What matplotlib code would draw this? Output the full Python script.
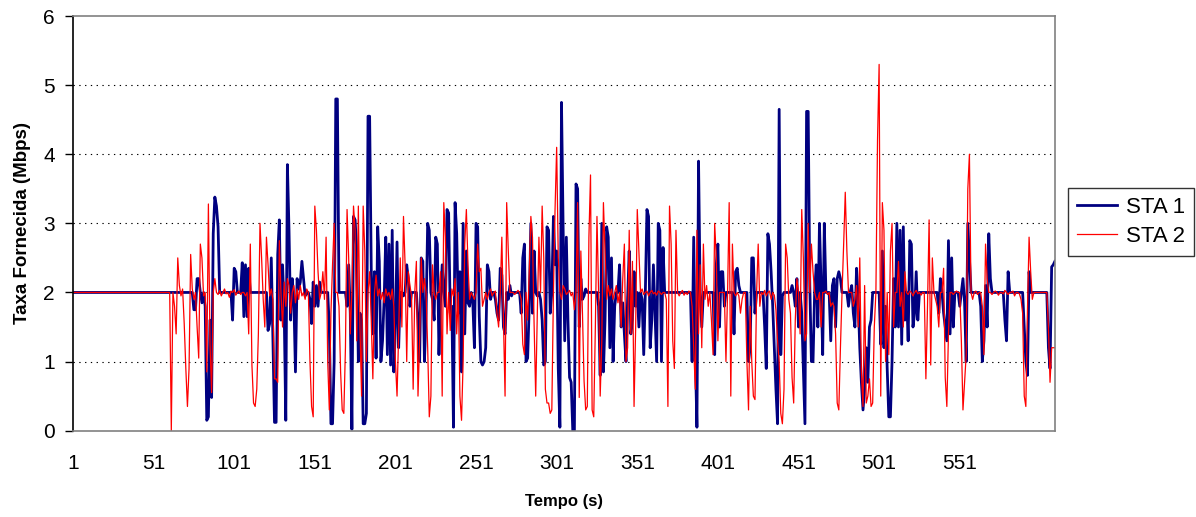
import matplotlib
matplotlib.use("Agg")
import matplotlib.pyplot as plt
import numpy as np

plt.rcParams['font.family'] = ['Liberation Sans', 'DejaVu Sans']

# taxa fornecida (Mbps) por segundo (t = 1..610)
sta1 = [
    2.0, 2.0, 2.0, 2.0, 2.0, 2.0, 2.0, 2.0, 2.0, 2.0,  # 1
    2.0, 2.0, 2.0, 2.0, 2.0, 2.0, 2.0, 2.0, 2.0, 2.0,
    2.0, 2.0, 2.0, 2.0, 2.0, 2.0, 2.0, 2.0, 2.0, 2.0,
    2.0, 2.0, 2.0, 2.0, 2.0, 2.0, 2.0, 2.0, 2.0, 2.0,
    2.0, 2.0, 2.0, 2.0, 2.0, 2.0, 2.0, 2.0, 2.0, 2.0,
    2.0, 2.0, 2.0, 2.0, 2.0, 2.0, 2.0, 2.0, 2.0, 2.0,  # 51
    2.0, 2.0, 2.0, 2.0, 2.0, 2.0, 2.0, 2.0, 2.0, 2.0,
    2.0, 2.0, 2.0, 2.0, 2.0, 1.75, 1.75, 2.2, 2.2, 2.0,
    1.85, 2.0, 1.8, 0.15, 0.2, 1.6, 0.48, 2.85, 3.38, 3.25,
    2.95, 2.0, 2.0, 2.0, 2.0, 2.0, 2.0, 2.0, 2.0, 1.6,
    2.35, 2.3, 2.0, 2.0, 2.0, 2.43, 1.65, 2.4, 1.65, 2.35,  # 101
    2.0, 2.0, 2.0, 2.0, 2.0, 2.0, 2.0, 2.0, 2.0, 2.0,
    2.0, 1.45, 1.55, 2.5, 1.35, 0.12, 0.12, 2.55, 3.05, 1.6,
    2.4, 1.75, 0.15, 3.85, 2.9, 1.6, 2.2, 1.9, 0.85, 2.2,
    2.05, 2.15, 2.45, 2.2, 1.95, 2.0, 2.0, 1.9, 1.55, 2.15,
    1.8, 2.1, 1.8, 2.15, 2.0, 2.0, 2.0, 2.0, 2.0, 1.5,  # 151
    0.1, 0.1, 1.0, 4.8, 4.8, 2.0, 2.0, 2.0, 2.0, 2.0,
    1.8, 2.4, 1.7, 0.02, 3.1, 3.05, 2.6, 1.0, 1.7, 1.6,
    0.1, 0.1, 0.25, 4.55, 4.55, 2.35, 1.4, 2.3, 1.05, 2.95,
    2.45, 1.0, 1.3, 1.9, 2.8, 1.1, 2.7, 0.95, 2.9, 0.85,
    1.5, 2.73, 1.2, 2.0, 2.0, 1.95, 2.0, 2.4, 2.2, 1.8,  # 201
    2.0, 2.0, 2.0, 2.0, 1.6, 1.0, 2.5, 2.45, 1.0, 1.7,
    3.0, 2.9, 2.0, 1.9, 1.6, 2.8, 2.7, 1.1, 1.9, 2.4,
    2.0, 1.8, 3.2, 3.15, 1.7, 1.8, 0.05, 3.3, 2.85, 1.7,
    2.3, 0.85, 3.0, 1.4, 2.6, 1.85, 1.8, 2.0, 1.85, 1.2,
    3.0, 2.95, 1.65, 1.0, 0.95, 1.0, 1.2, 2.4, 2.3, 1.9,  # 251
    2.0, 2.0, 1.9, 1.7, 1.6, 2.35, 2.25, 1.5, 1.4, 2.0,
    1.9, 2.1, 1.95, 2.0, 2.0, 2.0, 2.0, 2.0, 1.7, 2.5,
    2.7, 1.0, 1.05, 1.8, 3.0, 1.7, 2.6, 2.0, 1.95, 2.0,
    1.9, 1.6, 0.95, 1.0, 2.95, 2.9, 1.7, 2.0, 3.1, 2.4,
    2.6, 0.9, 0.05, 4.75, 2.95, 1.3, 2.8, 1.6, 0.77, 0.7,  # 301
    0.0, 0.0, 3.57, 3.5, 1.5, 2.2, 1.9, 1.95, 2.05, 2.0,
    2.0, 2.0, 2.0, 2.0, 2.0, 2.0, 1.8, 0.8, 3.0, 0.85,
    1.6, 2.95, 2.8, 1.2, 2.5, 1.0, 1.8, 2.0, 2.0, 2.4,
    1.5, 1.85, 1.4, 1.0, 1.9, 2.6, 1.4, 1.6, 2.3, 1.8,
    2.0, 1.5, 2.0, 1.9, 1.1, 2.0, 3.2, 3.1, 1.2, 1.6,  # 351
    2.4, 1.7, 1.0, 3.0, 2.9, 1.0, 2.65, 2.0, 2.0, 2.0,
    2.0, 2.0, 2.0, 2.0, 2.0, 2.0, 2.0, 2.0, 2.0, 2.0,
    2.0, 2.0, 2.0, 2.0, 1.0, 2.8, 1.1, 0.05, 3.9, 2.0,
    1.5, 2.0, 2.0, 2.0, 2.0, 2.0, 2.0, 2.0, 1.1, 2.4,
    2.7, 1.5, 2.3, 2.3, 1.8, 2.0, 2.0, 2.0, 2.0, 2.0,  # 401
    1.4, 2.3, 2.35, 2.1, 2.0, 2.0, 2.0, 2.0, 2.0, 1.0,
    1.2, 2.5, 2.5, 1.7, 2.0, 2.0, 2.0, 2.0, 2.0, 1.5,
    0.9, 2.85, 2.7, 2.3, 1.8, 1.2, 0.6, 0.1, 4.65, 1.1,
    1.95, 2.0, 2.0, 2.0, 2.0, 2.0, 2.1, 2.0, 1.8, 2.2,
    1.5, 2.0, 1.7, 0.9, 0.1, 4.62, 4.62, 2.1, 1.0, 1.0,  # 451
    2.0, 2.4, 1.5, 3.0, 2.1, 1.1, 3.0, 2.0, 2.0, 2.0,
    1.3, 2.1, 2.2, 1.5, 2.2, 2.3, 2.2, 2.0, 2.0, 2.0,
    2.0, 1.8, 2.0, 2.1, 1.7, 1.5, 2.35, 1.9, 1.2, 0.7,
    0.3, 0.6, 1.2, 0.7, 1.5, 1.6, 2.0, 2.0, 2.0, 2.0,
    2.0, 1.25, 2.6, 1.2, 1.8, 0.9, 0.2, 0.2, 1.0, 2.2,  # 501
    1.5, 3.0, 1.5, 2.9, 1.25, 2.95, 1.6, 2.0, 1.3, 2.75,
    2.7, 1.5, 1.7, 2.3, 1.6, 2.0, 2.0, 2.0, 2.0, 2.0,
    2.0, 2.0, 2.0, 2.0, 2.0, 2.0, 2.0, 1.7, 2.2, 2.0,
    1.7, 1.5, 1.3, 2.75, 1.4, 2.5, 1.5, 2.0, 2.0, 2.0,
    1.8, 2.0, 2.2, 1.85, 1.0, 3.0, 2.5, 2.0, 2.0, 2.0,  # 551
    2.0, 2.0, 2.0, 1.8, 1.0, 1.3, 2.1, 1.5, 2.85, 2.2,
    2.0, 2.0, 2.0, 2.0, 2.0, 2.0, 2.0, 2.0, 1.6, 1.3,
    2.3, 2.0, 2.0, 2.0, 2.0, 2.0, 2.0, 2.0, 2.0, 2.0,
    1.5, 1.0, 0.8, 2.3, 2.0, 2.0, 2.0, 2.0, 2.0, 2.0,
    2.0, 2.0, 2.0, 2.0, 2.0, 1.2, 0.9, 2.37, 2.4, 2.45,  # 601
]

sta2 = [
    2.0, 2.0, 2.0, 2.0, 2.0, 2.0, 2.0, 2.0, 2.0, 2.0,  # 1
    2.0, 2.0, 2.0, 2.0, 2.0, 2.0, 2.0, 2.0, 2.0, 2.0,
    2.0, 2.0, 2.0, 2.0, 2.0, 2.0, 2.0, 2.0, 2.0, 2.0,
    2.0, 2.0, 2.0, 2.0, 2.0, 2.0, 2.0, 2.0, 2.0, 2.0,
    2.0, 2.0, 2.0, 2.0, 2.0, 2.0, 2.0, 2.0, 2.0, 2.0,
    2.0, 2.0, 2.0, 2.0, 2.0, 2.0, 2.0, 2.0, 2.0, 2.0,  # 51
    2.0, 0.0, 2.0, 1.8, 1.4, 2.5, 2.1, 1.95, 2.05, 1.55,
    0.9, 0.35, 0.9, 2.55, 2.05, 1.9, 2.0, 1.5, 1.05, 2.7,
    2.5, 1.95, 2.0, 0.85, 3.28, 1.25, 0.55, 2.0, 2.2, 2.0,
    1.97, 2.03, 1.95, 2.0, 2.05, 1.98, 2.0, 1.93, 2.02, 2.0,
    2.04, 1.96, 2.0, 2.02, 1.97, 2.0, 2.0, 1.95, 2.0, 1.4,  # 101
    2.7, 0.95, 0.4, 0.35, 0.6, 1.4, 3.0, 2.5, 1.9, 1.5,
    2.8, 2.4, 1.95, 2.05, 1.9, 0.75, 0.75, 0.7, 2.75, 2.0,
    1.5, 2.15, 1.8, 2.2, 2.1, 1.7, 2.0, 2.1, 1.85, 2.05,
    1.9, 2.1, 1.95, 2.0, 1.9, 2.05, 2.0, 1.0, 0.35, 0.2,
    3.25, 2.9, 2.3, 1.9, 2.0, 2.3, 1.9, 2.8, 1.0, 0.3,  # 151
    1.7, 2.4, 3.0, 2.0, 2.0, 1.8, 0.85, 0.3, 0.25, 1.2,
    3.2, 2.5, 1.4, 2.0, 3.25, 2.9, 1.3, 3.25, 1.5, 0.5,
    3.25, 2.6, 1.0, 2.0, 2.3, 1.6, 0.75, 2.0, 2.25, 1.95,
    2.05, 1.9, 2.0, 1.85, 2.05, 1.95, 2.0, 1.9, 2.05, 1.8,
    1.0, 0.5, 1.4, 2.5, 1.5, 3.1, 2.4, 1.0, 2.3, 2.1,  # 201
    1.95, 0.6, 2.0, 2.45, 0.5, 1.3, 2.5, 2.0, 2.2, 2.0,
    1.2, 0.2, 0.5, 2.4, 2.0, 1.9, 2.0, 2.0, 2.3, 0.5,
    3.3, 2.8, 1.4, 2.0, 1.45, 2.05, 1.95, 2.2, 1.4, 2.0,
    0.5, 0.15, 1.0, 2.7, 3.2, 2.4, 1.9, 2.0, 1.95, 1.9,
    2.0, 2.7, 2.3, 2.35, 1.8, 1.9, 2.0, 1.9, 2.0, 2.05,  # 251
    1.95, 2.0, 2.02, 1.7, 1.5, 2.0, 2.8, 1.6, 0.5, 3.3,
    2.6, 2.0, 2.0, 2.0, 1.97, 2.0, 2.03, 2.0, 1.9, 1.25,
    1.1, 2.0, 1.6, 2.3, 3.1, 2.8, 1.55, 0.5, 1.7, 2.8,
    2.0, 3.25, 2.5, 0.6, 0.4, 0.4, 0.25, 0.3, 2.0, 3.2,
    4.1, 2.5, 2.0, 1.9, 2.1, 2.05, 1.97, 2.0, 2.03, 1.95,  # 301
    2.0, 1.75, 2.0, 3.3, 0.48, 2.6, 1.7, 0.72, 0.3, 0.35,
    2.8, 3.7, 0.3, 0.2, 1.5, 3.1, 2.0, 0.5, 1.3, 3.3,
    2.6, 1.9, 2.1, 1.95, 2.05, 1.9, 2.0, 2.1, 1.85, 2.0,
    1.5, 2.2, 2.7, 1.0, 1.2, 2.9, 1.4, 2.45, 0.35, 1.5,
    3.2, 2.6, 2.0, 2.05, 1.97, 2.0, 2.02, 1.95, 2.0, 2.03,  # 351
    1.98, 2.0, 1.96, 2.02, 2.0, 1.97, 2.0, 2.0, 1.9, 0.35,
    3.25, 2.7, 1.3, 0.9, 2.9, 2.0, 1.95, 2.0, 2.03, 1.96,
    2.0, 1.97, 2.02, 2.0, 1.8, 1.2, 0.6, 2.9, 1.4, 2.4,
    1.2, 2.7, 1.9, 2.1, 1.8, 2.0, 1.6, 1.1, 3.0, 2.5,
    1.3, 2.0, 2.0, 2.0, 2.0, 1.0, 2.0, 3.3, 0.5, 2.7,  # 401
    2.0, 1.95, 2.0, 1.95, 1.7, 1.9, 2.0, 2.0, 1.0, 0.3,
    1.8, 1.0, 0.5, 0.45, 2.0, 2.7, 1.8, 2.0, 1.97, 2.03,
    1.95, 2.0, 2.02, 1.9, 2.0, 1.96, 1.75, 1.3, 1.0, 0.25,
    0.1, 0.6, 2.7, 2.5, 1.9, 1.7, 0.77, 0.4, 1.6, 2.2,
    2.0, 1.4, 3.2, 2.5, 1.3, 1.4, 3.0, 2.0, 2.7, 2.3,  # 451
    2.0, 1.9, 1.9, 2.0, 1.5, 2.0, 2.0, 2.02, 1.97, 2.0,
    1.8, 1.85, 1.8, 1.4, 0.4, 0.3, 1.2, 2.0, 2.7, 3.45,
    2.6, 2.0, 2.0, 2.0, 1.8, 1.9, 2.1, 1.5, 2.5, 0.85,
    0.35, 2.1, 0.4, 0.5, 0.75, 0.35, 0.4, 1.5, 2.0, 4.2,
    5.3, 0.5, 3.3, 2.9, 1.0, 2.0, 1.1, 2.6, 3.0, 1.5,  # 501
    2.0, 2.0, 2.45, 1.8, 2.0, 1.5, 2.3, 2.0, 1.97, 2.02,
    2.0, 1.95, 2.0, 2.03, 1.98, 2.0, 1.96, 2.0, 2.0, 0.75,
    1.8, 3.05, 0.95, 2.5, 2.0, 1.9, 1.8, 1.5, 2.0, 2.0,
    2.35, 0.77, 0.35, 1.4, 2.0, 2.0, 1.97, 2.0, 2.02, 2.0,
    2.0, 1.3, 0.3, 0.7, 1.1, 3.5, 4.0, 2.0, 1.9, 2.0,  # 551
    2.02, 1.97, 2.0, 2.0, 1.8, 1.1, 2.7, 2.2, 2.0, 2.0,
    1.97, 2.0, 2.02, 2.0, 1.96, 2.0, 2.0, 1.98, 2.03, 2.0,
    1.97, 2.0, 2.0, 2.02, 1.95, 2.0, 2.0, 1.98, 1.9, 1.7,
    0.5, 0.35, 1.74, 2.8, 2.3, 1.9, 2.0, 2.0, 2.0, 2.0,
    2.0, 2.0, 2.0, 2.0, 2.0, 1.5, 0.7, 1.2, 1.2, 1.2,  # 601
]

tempo = np.arange(1, len(sta1) + 1)
xticks = [1, 51, 101, 151, 201, 251, 301, 351, 401, 451, 501, 551]
yticks = [0, 1, 2, 3, 4, 5, 6]

fig = plt.figure(figsize=(11.96, 5.17), dpi=100)
ax = fig.add_axes([0.061, 0.167, 0.821, 0.802])

ax.plot(tempo, sta1, color='#000080', lw=2.0, label='STA 1')
ax.plot(tempo, sta2, color='#ff0000', lw=0.9, label='STA 2')

ax.set_xlim(1, len(sta1))
ax.set_ylim(0, 6)
ax.set_xticks(xticks)
ax.set_yticks(yticks)
ax.tick_params(axis='x', length=0, pad=17, labelsize=15)
ax.tick_params(axis='y', length=6, width=1, pad=7, labelsize=15, direction='out')

for y in yticks[1:-1]:
    ax.axhline(y, color='black', lw=0.8, ls=(0, (1.2, 4)), zorder=0)

for s in ['top', 'right', 'bottom']:
    ax.spines[s].set_color('#808080')
    ax.spines[s].set_linewidth(1.2)
ax.spines['left'].set_color('black')
ax.spines['left'].set_linewidth(1.2)

ax.set_xlabel('Tempo (s)', fontsize=12, fontweight='bold', labelpad=15)
ax.set_ylabel('Taxa Fornecida (Mbps)', fontsize=13.5, fontweight='bold', labelpad=9)

leg = fig.legend(loc='upper left', bbox_to_anchor=(0.893, 0.636), fontsize=16,
                 frameon=True, fancybox=False, edgecolor='black',
                 handlelength=1.8, handletextpad=0.4, borderpad=0.4,
                 labelspacing=0.35, borderaxespad=0)
leg.get_frame().set_linewidth(1.0)

fig.savefig('out.png', dpi=100)
